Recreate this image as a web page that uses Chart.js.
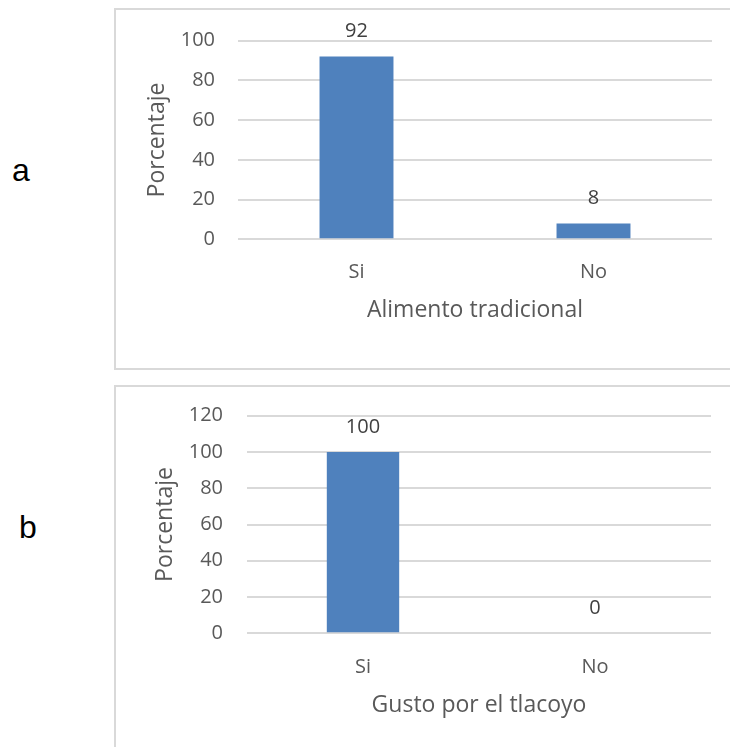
<!DOCTYPE html>
<html>
<head>
<meta charset="utf-8">
<script src="https://cdn.jsdelivr.net/npm/chart.js@4.4.1/dist/chart.umd.min.js"></script>
<style>
  html, body { margin: 0; padding: 0; background: #fff; width: 730px; height: 747px; overflow: hidden; }
  .panel { position: absolute; left: 114px; width: 620px; border: 2px solid #d9d9d9; box-sizing: border-box; }
  .panel canvas { display: block; }
  .tag { position: absolute; font-family: 'Liberation Sans', Arial, sans-serif; font-size: 32px; line-height: 32px; color: #000; }
</style>
</head>
<body>
<div class="tag" style="left:12px; top:154px;">a</div>
<div class="tag" style="left:19px; top:511px;">b</div>
<div class="panel" style="top:8px; height:362px;"><canvas id="chartA" width="616" height="358"></canvas></div>
<div class="panel" style="top:385px; height:370px;"><canvas id="chartB" width="616" height="366"></canvas></div>

<script>
'use strict';

// categorias y porcentajes
var categories = ['Si', 'No'];
var alimentoValues = [92, 8];
var gustoValues = [100, 0];
var alimentoTicks = [0, 20, 40, 60, 80, 100];
var gustoTicks = [0, 20, 40, 60, 80, 100, 120];

var TEXT = '#595959';
var FONT = '"Open Sans", "Noto Sans", sans-serif';

// etiqueta de valor encima de cada barra
var barValueLabels = {
    id: 'barValueLabels',
    afterDatasetsDraw: function(chart) {
        var ctx = chart.ctx;
        var meta = chart.getDatasetMeta(0);
        var values = chart.data.datasets[0].data;
        ctx.save();
        ctx.font = '20px ' + FONT;
        ctx.fillStyle = '#404040';
        ctx.textAlign = 'center';
        ctx.textBaseline = 'middle';
        meta.data.forEach(function(bar, i) {
            ctx.fillText(String(values[i]), bar.x, bar.y - 25);
        });
        ctx.restore();
    }
};

function makePanel(canvasId, values, ticks, xTitle, g) {
    var canvas = document.getElementById(canvasId);
    var yMax = ticks[ticks.length - 1];
    new Chart(canvas.getContext('2d'), {
        type: 'bar',
        data: {
            labels: categories,
            datasets: [{
                data: values,
                backgroundColor: '#4f81bd',
                borderWidth: 0,
                categoryPercentage: 1,
                barPercentage: 0.312
            }]
        },
        options: {
            responsive: false,
            animation: false,
            devicePixelRatio: 1,
            layout: { padding: { top: g.top, right: g.right, bottom: 0, left: 0 } },
            plugins: { legend: { display: false }, tooltip: { enabled: false } },
            scales: {
                x: {
                    offset: true,
                    grid: { display: false, drawTicks: false },
                    border: { display: false },
                    ticks: { color: TEXT, font: { family: FONT, size: 20 }, padding: g.xTickPad },
                    title: { display: true, text: xTitle, color: TEXT, font: { family: FONT, size: 23 },
                             padding: { top: 0, bottom: g.xTitlePad } },
                    afterFit: function(scale) { scale.height = canvas.height - g.bottom; }
                },
                y: {
                    min: 0,
                    max: yMax,
                    afterBuildTicks: function(scale) {
                        scale.ticks = ticks.map(function(v) { return { value: v }; });
                    },
                    // marcas invisibles: separan las etiquetas sin agrandar el relleno superior
                    grid: { color: '#d9d9d9', lineWidth: 2, drawTicks: true, tickLength: g.yTickGap, tickColor: 'rgba(0,0,0,0)' },
                    border: { display: false },
                    ticks: { color: TEXT, font: { family: FONT, size: 20 }, padding: 3 },
                    title: { display: true, text: 'Porcentaje', color: TEXT, font: { family: FONT, size: 23 },
                             padding: { top: g.yTitlePad, bottom: 0 } },
                    afterFit: function(scale) { scale.width = g.left; }
                }
            }
        },
        plugins: [barValueLabels]
    });
}

makePanel('chartA', alimentoValues, alimentoTicks, 'Alimento tradicional', {
    top: 30.7, bottom: 229.3, left: 122, right: 20,
    yTickGap: 20, yTitlePad: 27.2, xTickPad: 20.7, xTitlePad: 43.5
});

makePanel('chartB', gustoValues, gustoTicks, 'Gusto por el tlacoyo', {
    top: 28.7, bottom: 246.3, left: 131, right: 21,
    yTickGap: 21, yTitlePad: 35.2, xTickPad: 21.7, xTitlePad: 33.5
});
</script>
</body>
</html>
